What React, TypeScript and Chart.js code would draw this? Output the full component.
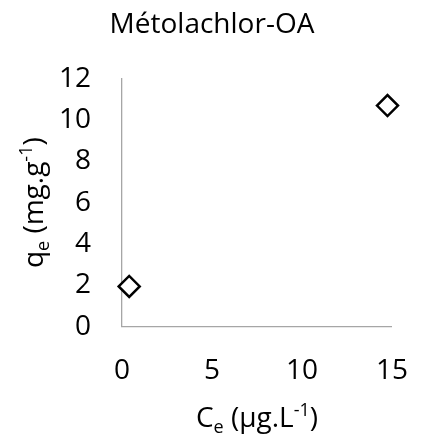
import React, { useEffect, useRef } from "react";
import { Chart, registerables } from "chart.js";

Chart.register(...registerables);

const chartTitle = "Métolachlor-OA";
const ceValues = [0.4, 14.75];
const qeValues = [1.95, 10.7];
const xTicks = [0, 5, 10, 15];
const yTicks = [0, 2, 4, 6, 8, 10, 12];

const FONT = "'Open Sans', sans-serif";
const FS = 28;

type Seg = { t: string; mode: "n" | "sub" | "sup" };
const yTitle: Seg[] = [
  { t: "q", mode: "n" },
  { t: "e", mode: "sub" },
  { t: " (mg.g", mode: "n" },
  { t: "-1", mode: "sup" },
  { t: ")", mode: "n" },
];
const xTitle: Seg[] = [
  { t: "C", mode: "n" },
  { t: "e", mode: "sub" },
  { t: " (µg.L", mode: "n" },
  { t: "-1", mode: "sup" },
  { t: ")", mode: "n" },
];

function drawRich(ctx: CanvasRenderingContext2D, segs: Seg[], cx: number, baseline: number, vertical: boolean) {
  const fontFor = (s: Seg) => `${s.mode === "n" ? FS : Math.round(FS * 0.65)}px ${FONT}`;
  let total = 0;
  for (const s of segs) {
    ctx.font = fontFor(s);
    total += ctx.measureText(s.t).width;
  }
  ctx.save();
  if (vertical) {
    ctx.setTransform(0, -1, 1, 0, cx, baseline);
  } else {
    ctx.setTransform(1, 0, 0, 1, cx, baseline);
  }
  let x = -total / 2;
  ctx.fillStyle = "#000";
  ctx.textBaseline = "alphabetic";
  ctx.textAlign = "left";
  for (const s of segs) {
    ctx.font = fontFor(s);
    const dy = s.mode === "sub" ? 6 : s.mode === "sup" ? -11 : 0;
    ctx.fillText(s.t, x, dy);
    x += ctx.measureText(s.t).width;
  }
  ctx.restore();
}

const textPlugin = {
  id: "richText",
  afterDraw(chart: any) {
    const ctx = chart.ctx as CanvasRenderingContext2D;
    const ca = chart.chartArea;
    ctx.save();
    ctx.font = `${FS}px ${FONT}`;
    ctx.fillStyle = "#000";
    ctx.textAlign = "center";
    ctx.textBaseline = "alphabetic";
    ctx.fillText(chartTitle, 212, 33);
    ctx.restore();
    drawRich(ctx, xTitle, (ca.left + ca.right) / 2, 427, false);
    drawRich(ctx, yTitle, 43, (ca.top + ca.bottom) / 2, true);
  },
};

export default function App() {
  const ref = useRef<HTMLCanvasElement | null>(null);
  useEffect(() => {
    if (!ref.current) return;
    const existing = Chart.getChart(ref.current);
    if (existing) existing.destroy();
    const chart = new Chart(ref.current, {
      type: "scatter",
      data: {
        datasets: [
          {
            data: ceValues.map((x, i) => ({ x, y: qeValues[i] })),
            pointStyle: "rectRot",
            pointRadius: 10.5,
            pointHoverRadius: 10.5,
            borderWidth: 2.5,
            borderColor: "#000",
            backgroundColor: "#fff",
            clip: false,
          },
        ],
      },
      options: {
        animation: false,
        responsive: false,
        events: [],
        layout: { padding: { top: 78.7, left: 0, right: 36, bottom: 0 } },
        plugins: { legend: { display: false }, title: { display: false }, tooltip: { enabled: false } },
        scales: {
          x: {
            type: "linear",
            min: 0,
            max: 15,
            afterBuildTicks: (s: any) => {
              s.ticks = xTicks.map((v) => ({ value: v }));
            },
            afterFit: (s: any) => {
              s.height = 111.3;
            },
            grid: { drawOnChartArea: false, drawTicks: false },
            border: { color: "#A6A6A6", width: 1.3 },
            ticks: { color: "#000", font: { family: FONT, size: FS }, padding: 28, maxRotation: 0, minRotation: 0 },
          },
          y: {
            type: "linear",
            min: 0,
            max: 12,
            afterBuildTicks: (s: any) => {
              s.ticks = yTicks.map((v) => ({ value: v }));
            },
            afterFit: (s: any) => {
              s.width = 122;
            },
            grid: { drawOnChartArea: false, drawTicks: false },
            border: { color: "#A6A6A6", width: 1.3 },
            ticks: { color: "#000", font: { family: FONT, size: FS }, padding: 31 },
          },
        },
      },
      plugins: [textPlugin],
    });
    return () => chart.destroy();
  }, []);
  return (
    <div style={{ position: "fixed", left: 0, top: 0, width: 436, height: 438, background: "#fff" }}>
      <canvas ref={ref} width={436} height={438} />
    </div>
  );
}
